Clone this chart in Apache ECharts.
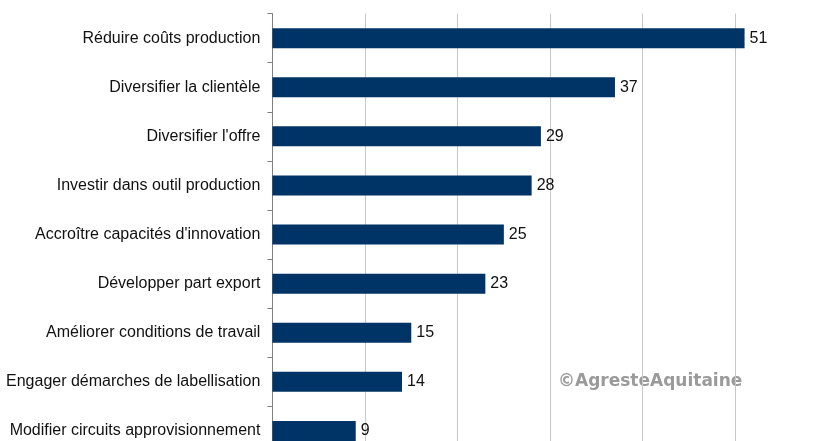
<!DOCTYPE html>
<html>
<head>
<meta charset="utf-8">
<script src="https://cdn.jsdelivr.net/npm/echarts@6/dist/echarts.min.js"></script>
<style>
  html, body { margin: 0; padding: 0; background: #fff; overflow: hidden; }
  #chart { width: 840px; height: 470px; }
</style>
</head>
<body>
<div id="chart"></div>
<script>
// Actions prévues par les entreprises (nombre de réponses)
const categories = [
  "Réduire coûts production",
  "Diversifier la clientèle",
  "Diversifier l'offre",
  "Investir dans outil production",
  "Accroître capacités d'innovation",
  "Développer part export",
  "Améliorer conditions de travail",
  "Engager démarches de labellisation",
  "Modifier circuits approvisionnement"
];
const values = [51, 37, 29, 28, 25, 23, 15, 14, 9];
const xTicks = [0, 10, 20, 30, 40, 50, 60];

const chart = echarts.init(document.getElementById('chart'), null, { renderer: 'canvas' });
const font = "'Liberation Sans', Arial, sans-serif";

// the plot area runs slightly past the visible page on the right and bottom
chart.setOption({
  animation: false,
  backgroundColor: '#ffffff',
  grid: { left: 272.4, width: 555.5, top: 13.6, height: 441.9, containLabel: false },
  xAxis: {
    type: 'value',
    min: xTicks[0],
    max: xTicks[xTicks.length - 1],
    interval: 10,
    axisLine: { show: false },
    axisTick: { show: false },
    axisLabel: { show: false },
    splitLine: { show: true, lineStyle: { color: '#c8c8c8', width: 1 } }
  },
  yAxis: {
    type: 'category',
    inverse: true,
    data: categories,
    axisLine: { show: true, lineStyle: { color: '#808080', width: 1 } },
    axisTick: { show: true, length: 5, lineStyle: { color: '#808080' } },
    axisLabel: { color: '#111111', fontFamily: font, fontSize: 16, margin: 12 }
  },
  series: [{
    type: 'bar',
    data: values,
    barWidth: 20,
    itemStyle: { color: '#003366' },
    label: {
      show: true,
      position: 'right',
      distance: 5,
      color: '#111111',
      fontFamily: font,
      fontSize: 16
    }
  }],
  graphic: [{
    type: 'text',
    left: 558,
    top: 373,
    style: {
      text: '©AgresteAquitaine',
      fill: '#9a9a9a',
      font: "bold 17px 'DejaVu Sans', Verdana, sans-serif"
    }
  }]
});
</script>
</body>
</html>
